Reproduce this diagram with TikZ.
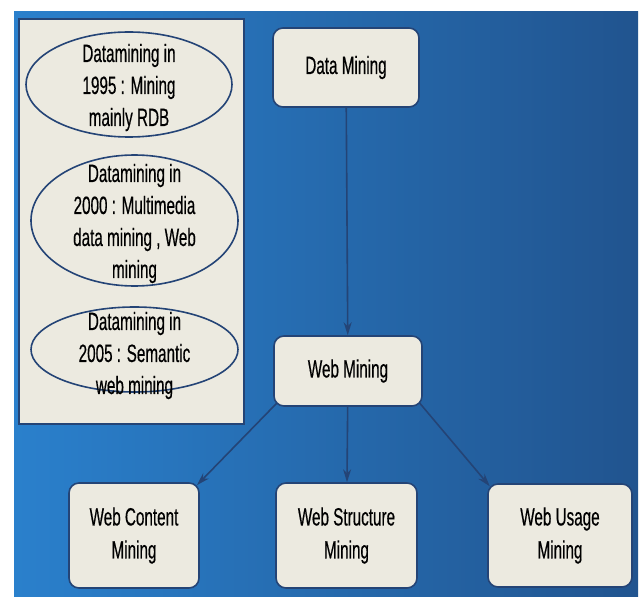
\documentclass[tikz,border=0pt]{standalone}
\usepackage{fontspec}
\setmainfont[FakeStretch=0.61, FakeBold=0.4]{Liberation Sans}
\usepackage{xcolor}
\usetikzlibrary{shapes.geometric, arrows.meta, positioning, backgrounds}
\definecolor{beige}{RGB}{236,234,224}
\definecolor{navy}{RGB}{36,68,118}
\definecolor{bgleft}{RGB}{42,128,204}
\definecolor{bgright}{RGB}{33,84,143}
\tikzset{
  box/.style={rectangle, draw=navy, line width=1.6pt, fill=beige, rounded corners=10pt, align=center, inner sep=0pt, font=\fontsize{25}{33}\selectfont},
  era/.style={ellipse, draw=navy, line width=1.6pt, inner sep=0pt},
  eratext/.style={align=center, inner sep=0pt, font=\fontsize{25}{32}\selectfont},
  arrow/.style={-{Stealth[length=13pt, width=8pt]}, draw=navy, line width=1.6pt},
}

\begin{document}
\begin{tikzpicture}[x=1pt, y=-1pt]
  \useasboundingbox (0,0) rectangle (644,596);

  % left panel: the three eras
  \node[rectangle, draw=navy, line width=1.6pt, fill=beige, minimum width=225pt, minimum height=405pt, inner sep=0pt] (panel) at (131.5,221.5) {};

  \node[era, minimum width=206pt, minimum height=105pt] (e1995) at (129,84.5) {};
  \node[eratext] (t1995) at ([yshift=-3pt]e1995) {Datamining in\\1995 : Mining\\mainly RDB};

  \node[era, minimum width=207pt, minimum height=131pt] (e2000) at (134.5,220.5) {};
  \node[eratext] (t2000) at ([yshift=-3pt]e2000) {Datamining in\\2000 : Multimedia\\data mining , Web\\mining};

  \node[era, minimum width=207pt, minimum height=85pt] (e2005) at (134.5,349.5) {};
  \node[eratext] (t2005) at ([yshift=-6pt]e2005) {Datamining in\\2005 : Semantic\\web mining};

  % hierarchy
  \node[box, minimum width=146pt, minimum height=79pt] (dm) at (346,67.5) {Data Mining};
  \node[box, minimum width=148pt, minimum height=70pt] (wm) at (348,371) {Web Mining};

  \node[box, minimum width=130pt, minimum height=105pt] (wcm) at (134,535.5) {Web Content\\Mining};
  \node[box, minimum width=141pt, minimum height=105pt] (wsm) at (346.5,535.5) {Web Structure\\Mining};
  \node[box, minimum width=144pt, minimum height=103pt] (wum) at (560,535.5) {Web Usage\\Mining};

  \begin{scope}[on background layer]
    \shade[left color=bgleft, right color=bgright] (14,12) rectangle (638,596);

    \draw[arrow] (dm) -- (wm);
    \draw[arrow, shorten <=-6pt, shorten >=-4pt] (wm.south west) -- (wcm.north east);
    \draw[arrow] (wm) -- (wsm);
    \draw[arrow, shorten <=-6pt, shorten >=-4pt] (wm.south east) -- (wum.north west);
  \end{scope}
\end{tikzpicture}
\end{document}
